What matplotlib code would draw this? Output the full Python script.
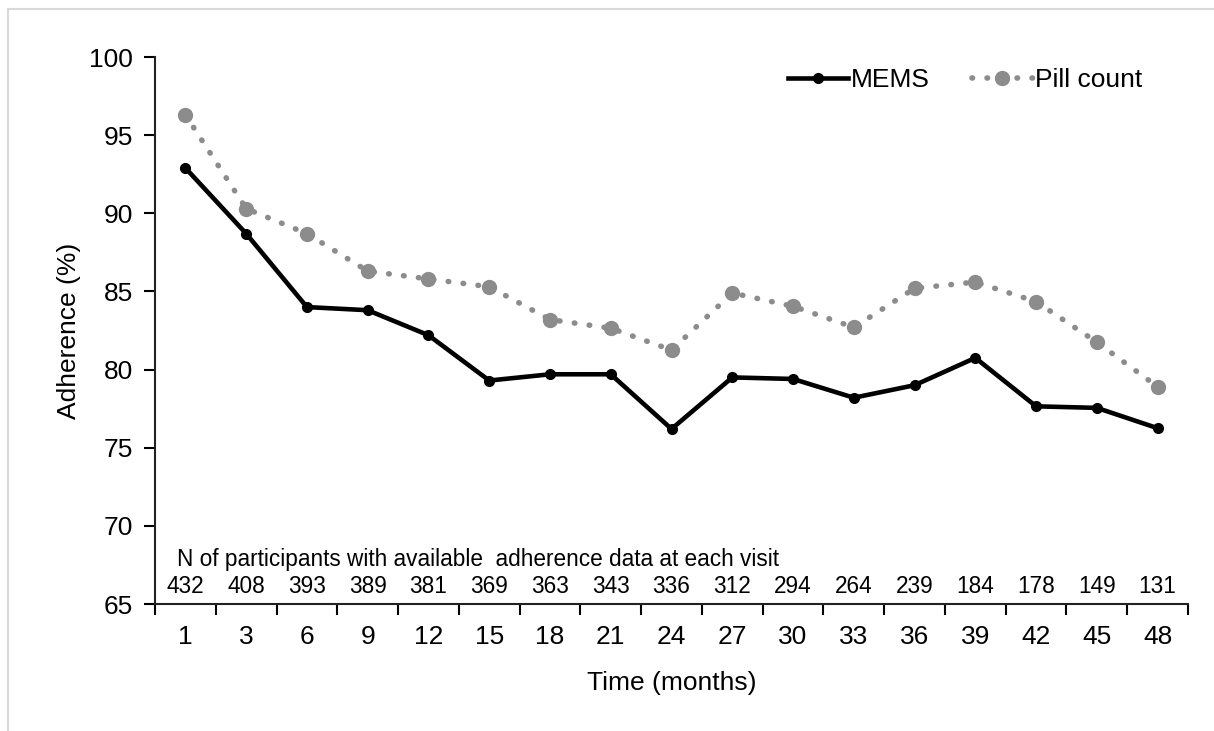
import numpy as np
import matplotlib
matplotlib.use("Agg")
import matplotlib.pyplot as plt
from matplotlib.patches import Rectangle

plt.rcParams['font.family'] = ['Liberation Sans', 'DejaVu Sans']

# data
months = ["1", "3", "6", "9", "12", "15", "18", "21", "24", "27", "30", "33", "36", "39", "42", "45", "48"]
mems = [92.9, 88.7, 84.0, 83.8, 82.2, 79.3, 79.7, 79.7, 76.2, 79.5, 79.4, 78.2, 79.0, 80.75, 77.65, 77.55, 76.25]
pill = [96.3, 90.3, 88.7, 86.3, 85.8, 85.3, 83.2, 82.65, 81.25, 84.9, 84.05, 82.7, 85.2, 85.6, 84.35, 81.75, 78.9]
n_part = [432, 408, 393, 389, 381, 369, 363, 343, 336, 312, 294, 264, 239, 184, 178, 149, 131]

fig = plt.figure(figsize=(12.14, 7.31), dpi=100)
ax = fig.add_axes([0.1277, 0.1737, 0.8509, 0.7483])

# light frame round the whole picture
fig.patches.append(Rectangle((8/1214, -0.1), 1.2, 1 - 9/731 + 0.1, transform=fig.transFigure,
                             fill=False, edgecolor="#d9d9d9", linewidth=1.5))

x = np.arange(len(months))
ax.plot(x, pill, color="#8c8c8c", linestyle=(0, (0.1, 2.6)), linewidth=4.0,
        dash_capstyle="round", marker="o", markersize=10, label="Pill count")
ax.plot(x, mems, color="black", linewidth=3.3, marker="o", markersize=7, label="MEMS")

ax.set_xlim(-0.5, len(months) - 0.5)
ax.set_ylim(65, 100)
ax.set_yticks(np.arange(65, 101, 5))

ax.set_xticks(np.arange(-0.5, len(months), 1))
ax.set_xticklabels([])
ax.set_xticks(x, minor=True)
ax.set_xticklabels(months, minor=True)
ax.tick_params(axis="x", which="minor", length=0, pad=15, labelsize=19)
ax.tick_params(axis="x", which="major", length=8, width=1.5, direction="out")
ax.tick_params(axis="y", length=8, width=1.5, labelsize=19, pad=8)

for s in ["top", "right"]:
    ax.spines[s].set_visible(False)
for s in ["left", "bottom"]:
    ax.spines[s].set_linewidth(1.5)
    ax.spines[s].set_color("#222222")

ax.set_xlabel("Time (months)", fontsize=19, labelpad=16)
ax.set_ylabel("Adherence (%)", fontsize=19, labelpad=6)

ax.text(-0.14, 67.85, "N of participants with available  adherence data at each visit",
        fontsize=16.3, ha="left", va="center")
for i, n in enumerate(n_part):
    ax.text(i, 66.15, str(n), fontsize=16.3, ha="center", va="center")

h, l = ax.get_legend_handles_labels()
ax.legend(h[::-1], l[::-1], loc="upper right", bbox_to_anchor=(0.979, 1.023), ncol=2,
          frameon=False, fontsize=19, handlelength=2.3, handletextpad=0.1, columnspacing=1.6)

fig.savefig("out.png", dpi=100)
